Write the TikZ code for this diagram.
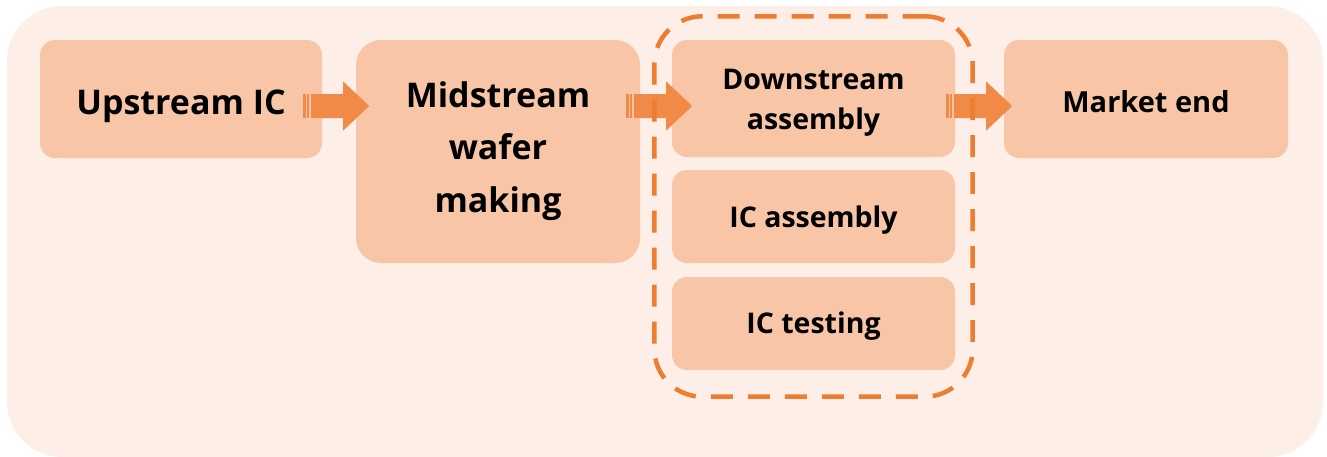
\documentclass[tikz,border=0pt]{standalone}
\usepackage{fontspec}
\setmainfont{Open Sans}
\usetikzlibrary{fit,calc}
\definecolor{bgpeach}{HTML}{FDEFE7}
\definecolor{boxpeach}{HTML}{F8C5A7}
\definecolor{accent}{HTML}{ED7D31}
\definecolor{arrowfill}{HTML}{F08A46}
% centred lines of text, moved down by #1 without changing the node size
\newcommand{\lowered}[2]{\raisebox{-#1}[0pt][0pt]{\begin{tabular}{@{}c@{}}#2\end{tabular}}}
\tikzset{
  stage/.style={fill=boxpeach, rounded corners=15, inner sep=0pt, align=center,
    font=\bfseries, text=black},
  bigtext/.style={font=\bfseries\fontsize{34}{52.5}\selectfont},
  midtext/.style={font=\bfseries\fontsize{29}{40}\selectfont},
  smalltext/.style={font=\bfseries\fontsize{28.5}{40}\selectfont},
  groupbox/.style={draw=accent, line width=4.5pt, dash pattern=on 22pt off 15pt,
    rounded corners=48, inner xsep=17.5pt, inner ysep=25pt},
  pics/stripearrow/.style={code={
    \fill[arrowfill] (0,-12) rectangle (2.4,12);
    \fill[arrowfill] (4,-12) rectangle (6.2,12);
    \fill[arrowfill] (7.8,-12) -- (40,-12) -- (40,-24.5) -- (66,0)
      -- (40,24.5) -- (40,12) -- (7.8,12) -- cycle;
  }}
}
\begin{document}
\begin{tikzpicture}[x=1pt,y=-1pt]
\useasboundingbox (0,0) rectangle (1327,456);
% panel behind the chain
\fill[bgpeach, rounded corners=55] (7,6) rectangle (1323,457);

% stages of the chain
\node[stage, bigtext, minimum width=282, minimum height=118] (up) at (181,99) {\lowered{11.6pt}{Upstream IC}};
\node[stage, bigtext, rounded corners=25, minimum width=284, minimum height=223] (mid) at (498,151.5) {\lowered{4pt}{Midstream\\wafer\\making}};
\node[stage, smalltext, minimum width=283, minimum height=117] (down) at (813.5,98.5) {\lowered{9.6pt}{Downstream\\assembly}};
\node[stage, smalltext, minimum width=283, minimum height=93] (asm) at (813.5,216.5) {\lowered{9.6pt}{IC assembly}};
\node[stage, smalltext, minimum width=283, minimum height=93] (test) at (813.5,323.5) {\lowered{8.6pt}{IC testing}};
\node[stage, midtext, minimum width=284, minimum height=118] (mkt) at (1146,99) {\lowered{12.2pt}{Market end}};

% striped arrows between the stages
\pic at ($(up.east)+(-19,7)$) {stripearrow};
\pic at ($(mid.east |- up.east)+(-14,7)$) {stripearrow};
\pic at ($(down.east)+(-9,7.5)$) {stripearrow};

% downstream group
\node[groupbox, fit=(down)(test), yshift=-1.5pt] (grp) {};
\end{tikzpicture}
\end{document}
